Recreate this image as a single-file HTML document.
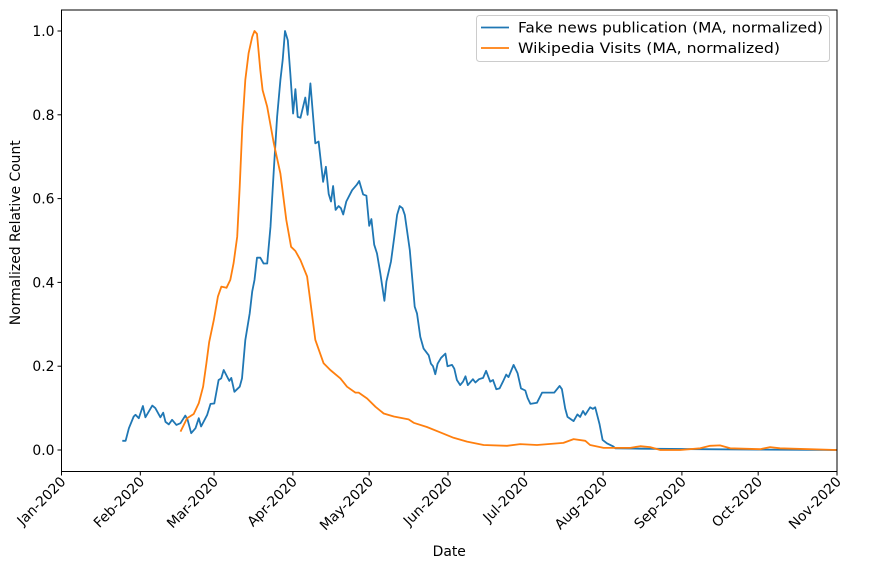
<!DOCTYPE html>
<html><head><meta charset="utf-8"><style>
body{margin:0;background:#fff}
svg text{font-family:"DejaVu Sans","Liberation Sans",sans-serif;font-size:13.9px;fill:#000}
</style></head><body>
<svg id="chart" width="874" height="569" xmlns="http://www.w3.org/2000/svg"></svg>
<script>
const monthLabels=["Jan-2020","Feb-2020","Mar-2020","Apr-2020","May-2020","Jun-2020","Jul-2020","Aug-2020","Sep-2020","Oct-2020","Nov-2020"];
const monthDays=[0,31,60,91,121,152,182,213,244,274,305];
const yTicks=[0,0.2,0.4,0.6,0.8,1.0];
const fakeDays=[23.9,25.2,26.5,28.4,29.1,30.4,32,33,35.7,36.9,38.9,40,40.9,42.2,43.5,45.2,46.8,48.7,49.6,51,52.7,54,54.9,57.3,58.6,60.1,61.8,62.8,63.8,66,66.8,68,70.1,71,72.3,74,75,75.9,76.9,78.2,79.5,80.9,82.2,83.5,84.8,86.1,87,87.9,89,90,91.1,92,92.9,94,95.9,96.8,97.9,99.8,101.1,102.9,104,105.1,106,106.8,107.8,109,109.9,110.8,112,114.3,116.2,117.1,118.6,119.9,121,121.9,123,124.1,125.4,127,127.8,129.6,130.9,132,133,134.1,135,137,138.9,139.8,141.1,142.4,144.4,145.3,146.1,147,147.9,149.3,151,151.8,153.6,154.5,155.5,156.8,157.9,158.9,159.8,161.8,162.8,164.2,165.8,167,168.6,169.7,171,172.3,173.6,174.9,175.8,177.8,179.4,180.7,182.4,183.3,184.4,187,189,193.8,195.9,196.8,198.1,199,201.4,202.9,204,205.1,206,207.9,209,209.9,211.6,212.8,214.5,217.1,217.8,227.6,251.2,274.8,305];
const fakeVals=[0.022,0.022,0.052,0.08,0.084,0.076,0.105,0.078,0.106,0.1,0.078,0.089,0.067,0.061,0.072,0.06,0.064,0.082,0.072,0.04,0.052,0.076,0.056,0.084,0.11,0.111,0.167,0.171,0.191,0.165,0.172,0.139,0.151,0.171,0.262,0.326,0.378,0.406,0.459,0.459,0.445,0.445,0.533,0.668,0.795,0.883,0.931,1.0,0.978,0.899,0.803,0.861,0.795,0.793,0.841,0.8,0.875,0.732,0.736,0.64,0.676,0.611,0.593,0.63,0.573,0.582,0.577,0.562,0.593,0.62,0.634,0.642,0.61,0.607,0.535,0.551,0.49,0.469,0.422,0.356,0.402,0.45,0.509,0.561,0.582,0.577,0.561,0.477,0.342,0.326,0.27,0.242,0.226,0.206,0.2,0.181,0.206,0.22,0.23,0.2,0.203,0.194,0.167,0.155,0.163,0.176,0.155,0.169,0.161,0.169,0.172,0.189,0.163,0.167,0.145,0.147,0.163,0.18,0.174,0.203,0.183,0.147,0.142,0.124,0.11,0.113,0.137,0.137,0.153,0.145,0.099,0.079,0.069,0.085,0.079,0.093,0.084,0.102,0.098,0.102,0.062,0.024,0.016,0.008,0.004,0.003,0.002,0.001,0.0];
const wikiDays=[46.8,49.4,52,54,55.7,57,58.1,59.9,61.5,62.9,64.9,66.4,67.7,69.1,70.1,71.1,72.3,73.6,75,75.9,76.9,78.2,79.1,80.9,83.5,86.1,88.4,90.3,92,94,96.6,98.5,99.8,103.1,105.7,109.7,112.3,115.6,116.9,120.2,123.5,126.7,130.7,136.5,138.5,143.7,149,154.2,159.5,166,175.2,180.4,187,197.4,201.4,206,207.9,213.2,223.7,227.6,231.5,235.5,243.3,251.2,255.1,259,263,274.8,278.7,282.6,305];
const wikiVals=[0.044,0.076,0.086,0.112,0.151,0.207,0.258,0.31,0.366,0.39,0.387,0.406,0.446,0.509,0.628,0.771,0.883,0.947,0.986,1.0,0.993,0.907,0.859,0.819,0.732,0.66,0.549,0.485,0.475,0.453,0.414,0.326,0.263,0.207,0.191,0.171,0.151,0.137,0.137,0.123,0.103,0.087,0.08,0.073,0.065,0.055,0.042,0.029,0.02,0.012,0.01,0.014,0.012,0.017,0.026,0.022,0.012,0.005,0.005,0.009,0.007,0.0,0.0,0.004,0.01,0.011,0.004,0.002,0.007,0.004,0.0];

const NS="http://www.w3.org/2000/svg";
const svg=document.getElementById('chart');
const L=61.5,R=837,T=10,B=471.5;
const xs=d=>L+(d/305)*(R-L);
const ys=v=>450-v*419;
function mk(tag,attrs,parent){const e=document.createElementNS(NS,tag);for(const k in attrs)e.setAttribute(k,attrs[k]);(parent||svg).appendChild(e);return e;}

yTicks.forEach(v=>{
  const g=mk('g',{});
  
  
  mk('line',{x1:L-4,x2:L,y1:ys(v),y2:ys(v),stroke:'#000','stroke-width':1},g);
  const t=mk('text',{x:L-7,y:ys(v)+5,'text-anchor':'end'},g);t.textContent=v.toFixed(1);
});
monthDays.forEach((d,i)=>{
  const g=mk('g',{});
  
  
  const x=xs(d);
  mk('line',{x1:x,x2:x,y1:B,y2:B+4,stroke:'#000','stroke-width':1},g);
  const t=mk('text',{x:x+5,y:B+11,'text-anchor':'end',transform:`rotate(-45 ${x+5} ${B+11})`},g);t.textContent=monthLabels[i];
});
function line(days,vals,color,name){
  const p=days.map((d,i)=>(i?'L':'M')+xs(d).toFixed(1)+','+ys(vals[i]).toFixed(1)).join('');
  const e=mk('path',{d:p,fill:'none',stroke:color,'stroke-width':1.8,'stroke-linejoin':'round'});
  
  
}
line(fakeDays,fakeVals,'#1f77b4','fake-news-line');
line(wikiDays,wikiVals,'#ff7f0e','wikipedia-visits-line');
const fr=mk('rect',{x:L,y:T,width:R-L,height:B-T,fill:'none',stroke:'#000','stroke-width':1});


const xt=mk('text',{x:(L+R)/2,y:556,'text-anchor':'middle'});xt.textContent='Date';


const yt=mk('text',{x:20,y:(T+B)/2-8,'text-anchor':'middle',transform:`rotate(-90 20 ${(T+B)/2-8})`,textLength:185,lengthAdjust:'spacingAndGlyphs'});yt.textContent='Normalized Relative Count';


const lg=mk('g',{});


mk('rect',{x:476.5,y:15.5,width:353,height:46,rx:3,fill:'#fff','fill-opacity':0.8,stroke:'#ccc'},lg);
[['#1f77b4','Fake news publication (MA, normalized)',305],['#ff7f0e','Wikipedia Visits (MA, normalized)',262]].forEach((e,i)=>{
  const g=mk('g',{},lg);
  
  
  const y=27.5+i*20.5;
  mk('line',{x1:481,x2:509,y1:y,y2:y,stroke:e[0],'stroke-width':1.8},g);
  const t=mk('text',{x:518,y:y+5,textLength:e[2],lengthAdjust:'spacingAndGlyphs'},g);t.textContent=e[1];
});
</script>
</body></html>
